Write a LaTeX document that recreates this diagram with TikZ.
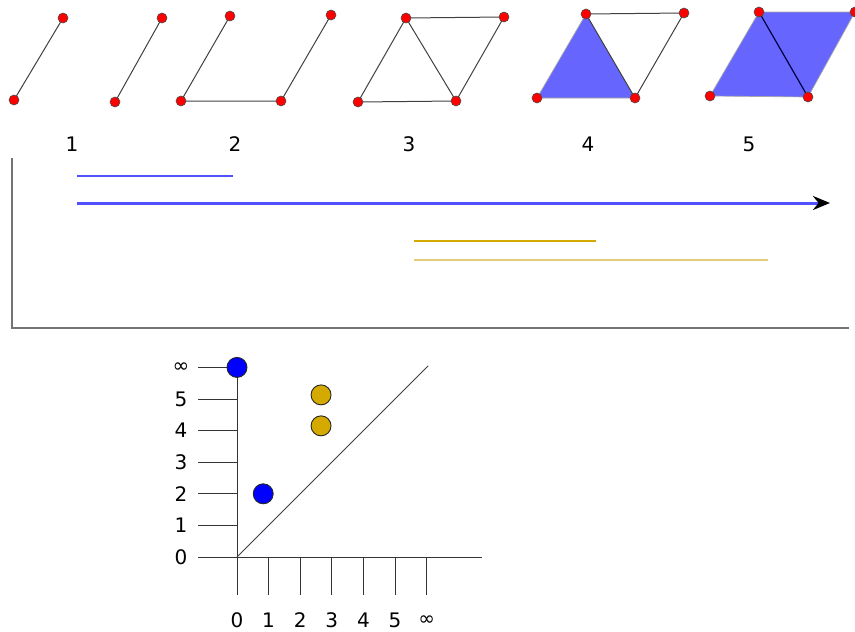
\documentclass[tikz,border=0pt]{standalone}
\usepackage{fontspec}
\setmainfont{DejaVu Sans}
\usepackage{tikz}
\usetikzlibrary{arrows.meta}
\definecolor{vertrojo}{RGB}{255,0,0}
\definecolor{relleno}{RGB}{102,102,255}
\definecolor{barazul}{RGB}{80,80,255}
\definecolor{baraoro}{RGB}{212,170,0}
\definecolor{oroclaro}{RGB}{230,205,120}
\definecolor{puntoazul}{RGB}{0,0,255}

\begin{document}
\begin{tikzpicture}[x=1pt, y=-1pt, >=Stealth, line width=0.8pt,
    vertice/.style={circle, draw=black!70, fill=vertrojo, line width=0.6pt,
        inner sep=0pt, minimum size=10pt},
    arista/.style={black!75, line width=1pt},
    punto/.style={circle, draw=black!85, line width=0.9pt, inner sep=0pt,
        minimum size=20pt},
    etiq/.style={font=\fontsize{20}{20}\selectfont}]
    \useasboundingbox (0,0) rectangle (855,632);
    % complejo 1: dos aristas sueltas
    \coordinate (a1) at (14,100);  \coordinate (a2) at (63,18);
    \coordinate (a3) at (115,102); \coordinate (a4) at (162,18);
    \draw[arista] (a1)--(a2) (a3)--(a4);
    % complejo 2: se une la base
    \coordinate (b1) at (181,101); \coordinate (b2) at (230,16);
    \coordinate (b3) at (281,101); \coordinate (b4) at (331,15);
    \draw[arista] (b2)--(b1)--(b3)--(b4);
    % complejo 3: dos ciclos
    \coordinate (c1) at (358,102); \coordinate (c2) at (406,18);
    \coordinate (c3) at (456,101); \coordinate (c4) at (504,17);
    \draw[arista] (c1)--(c2)--(c4)--(c3)--(c1) (c2)--(c3);
    % complejo 4: un triangulo relleno
    \coordinate (d1) at (537,98);  \coordinate (d2) at (586,14);
    \coordinate (d3) at (635,98);  \coordinate (d4) at (684,13);
    \fill[relleno] (d1)--(d2)--(d3)--cycle;
    \draw[black!35, line width=0.7pt] (d3)--(d1)--(d2);
    \draw[arista] (d2)--(d4)--(d3)--(d2);
    % complejo 5: ambos triangulos rellenos
    \coordinate (e1) at (710,96);  \coordinate (e2) at (759,12);
    \coordinate (e3) at (808,97);  \coordinate (e4) at (855,12);
    \fill[relleno] (e1)--(e2)--(e4)--(e3)--cycle;
    \draw[black!35, line width=0.7pt] (e3)--(e1)--(e2)--(e4)--(e3);
    \draw[blue!25!black, line width=1.2pt] (e2)--(e3);
    % vertices
    \foreach \v in {a1,a2,a3,a4,b1,b2,b3,b4,c1,c2,c3,c4,d1,d2,d3,d4,e1,e2,e3,e4}
        \node[vertice] (v\v) at (\v) {};
    % numeros de cada paso
    \foreach \n/\x in {1/72,2/235,3/409,4/588,5/749}
        \node[etiq] (paso\n) at (\x,144) {\n};
    % codigo de barras
    \draw[black!55, line width=1.4pt] (12,158)--(12,328)--(849,328);
    \draw[barazul, line width=1.8pt] (77,176)--(233,176);
    \draw[barazul, line width=3pt, -{Stealth[black,length=17pt,width=14pt]}]
        (77,203)--(830,203);
    \draw[baraoro, line width=1.4pt] (414,241)--(596,241);
    \draw[oroclaro, line width=2.2pt] (414,260)--(768,260);
    % diagrama de persistencia (unidad = 31.6)
    \begin{scope}[shift={(237,557)}, x=31.6pt, y=31.6pt]
        \draw[black!80, line width=0.9pt] (-1.23,0)--(7.75,0);
        \draw[black!80, line width=0.9pt] (0,0)--(0,6);
        \foreach \k/\t in {0/0,1/1,2/2,3/3,4/4,5/5,6/∞} {
            \draw[black!80, line width=0.9pt] (-1.23,\k)--(0,\k);
            \draw[black!80, line width=0.9pt] (\k,0)--(\k,-1.2);
            \node[etiq] (ye\k) at (-1.77,\k) {\t};
            \node[etiq] (xe\k) at (\k,-2.0) {\t};
        }
        \draw[black!75, line width=0.9pt] (0,0)--(6.05,6.05);
        \node[punto, fill=puntoazul] (p1) at (0,6) {};
        \node[punto, fill=puntoazul] (p2) at (0.83,2) {};
        \node[punto, fill=baraoro] (p3) at (2.66,5.13) {};
        \node[punto, fill=baraoro] (p4) at (2.66,4.15) {};
    \end{scope}
\end{tikzpicture}
\end{document}
